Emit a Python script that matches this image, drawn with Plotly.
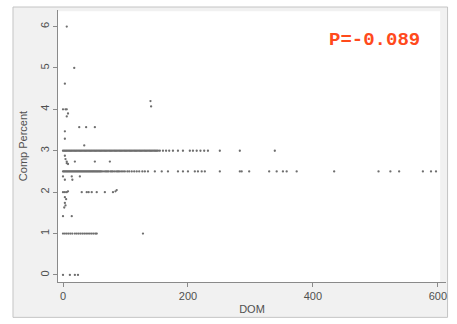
import plotly.graph_objects as go

# ---- data (DOM = days on market, Comp Percent) ----
# dense row at 3.0
dom_r30 = [0, 2, 4, 6, 8, 10, 12, 14, 16, 18, 20, 22, 24, 26, 28, 30, 32, 34, 36, 38, 40,
           42, 44, 46, 48, 50, 52, 54, 56, 58, 60, 62, 64, 66, 68, 70, 72, 74, 76, 78, 80,
           82, 84, 86, 88, 90, 92, 94, 96, 98, 100, 102, 104, 106, 108, 110, 112, 114, 116,
           118, 120, 122, 124, 126, 128, 130, 132, 134, 136, 138, 140, 142, 144, 146, 148,
           150, 152, 155, 160, 165, 170, 176, 184, 192, 203, 208, 214, 220, 226, 232, 251,
           283, 339]
comp_r30 = [3.0] * len(dom_r30)

# dense row at 2.5
dom_r25 = [0, 1.5, 3, 4.5, 6, 7.5, 9, 10.5, 12, 13.5, 15, 16.5, 18, 19.5, 21, 22.5, 24,
           25.5, 27, 28.5, 30, 31.5, 33, 34.5, 36, 37.5, 39, 40.5, 42, 43.5, 45, 46.5, 48,
           49.5, 51, 52.5, 54, 55.5, 57, 58.5, 60, 61.5, 64, 67, 69, 71, 73, 76, 78, 80,
           83, 86, 88, 90, 93, 96, 99, 103, 106, 110, 114, 118, 122, 127, 131, 136, 147,
           158, 168, 184, 192, 200, 211, 216, 222, 227, 251, 283, 286, 298, 330, 342, 352,
           358, 374, 434, 505, 524, 538, 576, 589, 597]
comp_r25 = [2.5] * len(dom_r25)

# scattered observations
dom_misc = [6, 18, 3, 0, 4, 6, 6, 8, 26, 37, 51, 3, 3, 34, 140, 141,
            3, 4, 6, 19, 51, 75, 6, 8,
            0, 14, 27, 3, 15,
            0, 3, 6, 8, 30, 38, 41, 46, 54, 67, 80, 86, 84,
            3, 5, 3, 4, 2,
            0, 14,
            0, 3, 6, 9, 12, 15, 19, 22, 25, 28, 31, 34, 37, 40, 43, 46, 49, 52, 54, 128,
            0, 11, 19, 24]
comp_misc = [6.0, 5.0, 4.62, 4.0, 4.0, 4.0, 3.83, 3.9, 3.57, 3.57, 3.57, 3.47, 3.29, 3.13, 4.2, 4.07,
             2.88, 2.8, 2.74, 2.74, 2.74, 2.74, 2.7, 2.68,
             2.38, 2.38, 2.38, 2.3, 2.3,
             2.0, 2.0, 2.0, 2.02, 2.0, 2.0, 2.0, 2.0, 2.0, 2.0, 2.0, 2.05, 2.02,
             1.88, 1.83, 1.74, 1.68, 1.63,
             1.42, 1.42,
             1.0, 1.0, 1.0, 1.0, 1.0, 1.0, 1.0, 1.0, 1.0, 1.0, 1.0, 1.0, 1.0, 1.0, 1.0, 1.0, 1.0, 1.0, 1.0, 1.0,
             0.0, 0.0, 0.0, 0.0]

dom = dom_r30 + dom_r25 + dom_misc
comp = comp_r30 + comp_r25 + comp_misc

x_ticks = [0, 200, 400, 600]
y_ticks = [0, 1, 2, 3, 4, 5, 6]
corr_label = "P=-0.089"

fig = go.Figure()
fig.add_trace(go.Scatter(
    x=dom, y=comp, mode="markers",
    marker=dict(size=2.3, color="#6e6e6e", line=dict(width=0)),
    hoverinfo="skip", showlegend=False,
))

axis_font = dict(family="Liberation Sans, Arial, sans-serif", size=11, color="#505050")

fig.update_layout(
    width=457, height=324,
    margin=dict(l=58, r=11, t=10, b=38),
    paper_bgcolor="white",
    plot_bgcolor="rgba(0,0,0,0)",
    showlegend=False,
    font=axis_font,
    xaxis=dict(
        range=[-8, 613], tickvals=x_ticks, ticktext=[str(v) for v in x_ticks],
        showgrid=False, zeroline=False, showline=True, linecolor="#8a8a8a", linewidth=1,
        ticks="outside", ticklen=4, tickcolor="#8a8a8a", tickfont=axis_font,
        title=dict(text="DOM", font=axis_font, standoff=4),
    ),
    yaxis=dict(
        range=[-0.17, 6.4], tickvals=y_ticks, ticktext=[str(v) for v in y_ticks],
        tickangle=-90,
        showgrid=False, zeroline=False, showline=True, linecolor="#8a8a8a", linewidth=1,
        ticks="outside", ticklen=4, tickcolor="#8a8a8a", tickfont=axis_font,
        title=dict(text="Comp Percent", font=axis_font, standoff=8),
    ),
    shapes=[
        dict(type="rect", xref="paper", yref="paper", x0=-0.116, x1=1.004, y0=-0.13, y1=1.011,
             fillcolor="#f1f1f1", line=dict(color="#c4c4c4", width=1), layer="below"),
        dict(type="rect", xref="paper", yref="paper", x0=0, x1=0.985, y0=0, y1=0.995,
             fillcolor="white", line=dict(width=0), layer="below"),
    ],
    annotations=[
        dict(text="<b>" + corr_label + "</b>", xref="paper", yref="paper",
             x=0.817, y=0.891, xanchor="center", yanchor="middle", showarrow=False,
             font=dict(family="Liberation Mono, Courier New, monospace", size=19, color="#ff4a1c")),
    ],
)

fig.write_html("out.html")
